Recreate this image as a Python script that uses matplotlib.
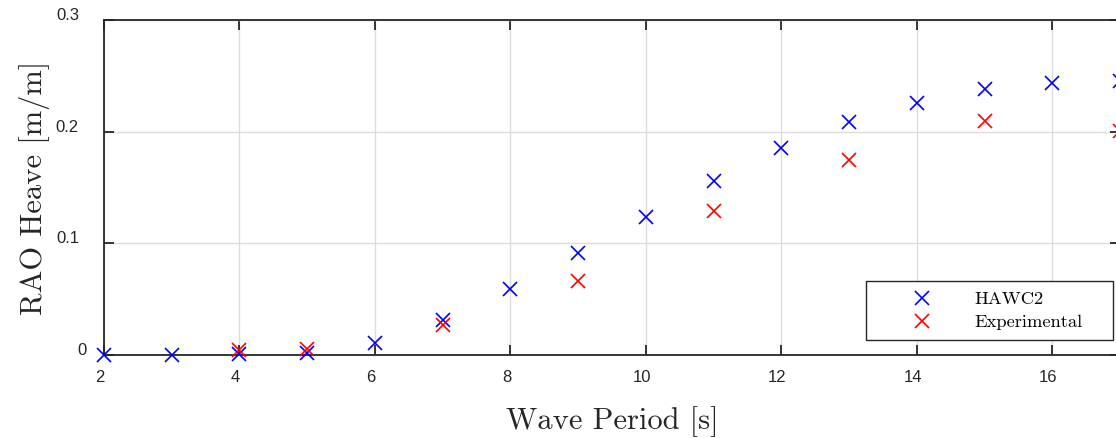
import matplotlib.pyplot as plt
import matplotlib.transforms as mtransforms
import numpy as np

# Data
periods_hawc2 = [2, 3, 4, 5, 6, 7, 8, 9, 10, 11, 12, 13, 14, 15, 16, 17]
rao_hawc2 = [0.0, 0.0, 0.001, 0.002, 0.011, 0.031, 0.059, 0.091, 0.124,
             0.156, 0.185, 0.209, 0.226, 0.238, 0.244, 0.245]

periods_exp = [4, 5, 7, 9, 11, 13, 15, 17]
rao_exp = [0.0045, 0.005, 0.027, 0.066, 0.129, 0.175, 0.210, 0.201]

x_ticks = [2, 4, 6, 8, 10, 12, 14, 16]
y_ticks = [0, 0.1, 0.2, 0.3]
y_tick_labels = ['0', '0.1', '0.2', '0.3']

W, H = 1116, 438
fig = plt.figure(figsize=(W / 100, H / 100), dpi=100)
# axes is a bit wider than the picture: the right edge is cropped like the reference
ax = fig.add_axes([104 / W, 1 - 355 / H, (1120 - 104) / W, (355 - 20) / H])

ax.plot(periods_hawc2, rao_hawc2, 'x', color='#0000ff', markersize=10,
        markeredgewidth=1.2, label='HAWC2', clip_on=False, zorder=3)
ax.plot(periods_exp, rao_exp, 'x', color='#ff0000', markersize=10,
        markeredgewidth=1.2, label='Experimental', clip_on=False, zorder=3)

ax.set_xlim(2, 17)
ax.set_ylim(0, 0.3)
ax.set_xticks(x_ticks)
ax.set_yticks(y_ticks)
ax.set_yticklabels(y_tick_labels)

# MATLAB-like look
ax.grid(True, color='#dcdcdc', linewidth=1.0)
ax.set_axisbelow(True)
for s in ax.spines.values():
    s.set_color('#262626')
    s.set_linewidth(1.3)
ax.tick_params(direction='in', length=7, width=1.3, color='#262626',
               top=True, right=True, labelsize=12, labelcolor='#262626')
ax.tick_params(axis='x', pad=11)
ax.tick_params(axis='y', pad=18)
for lab in ax.get_xticklabels() + ax.get_yticklabels():
    lab.set_family(['Liberation Sans', 'DejaVu Sans'])

# MATLAB tick labels sit a bit off the ticks
for lab in ax.get_yticklabels():
    shift_x = 8 / 100 if lab.get_text() == '0' else 0
    off = mtransforms.ScaledTranslation(shift_x, 6 / 100, fig.dpi_scale_trans)
    lab.set_transform(lab.get_transform() + off)
dx = mtransforms.ScaledTranslation(-4 / 100, 0, fig.dpi_scale_trans)
for lab in ax.get_xticklabels():
    lab.set_transform(lab.get_transform() + dx)

ax.set_xlabel('Wave Period [s]', family='cmr10', fontsize=22, color='#262626',
              labelpad=15)
ax.set_ylabel('RAO Heave [m/m]', family='cmr10', fontsize=22, color='#262626',
              labelpad=4)

leg = ax.legend(loc='upper left', mode='expand',
                bbox_to_anchor=(866 / W, 1 - 281 / H, (1113 - 866) / W, 0),
                bbox_transform=fig.transFigure,
                prop={'family': 'cmr10', 'size': 13.3},
                frameon=True, fancybox=False, edgecolor='#262626', framealpha=1,
                borderpad=0.55, labelspacing=0.38, handletextpad=0.3,
                borderaxespad=0, handlelength=5.0)
leg.get_frame().set_linewidth(1.0)

fig.savefig('out.png', dpi=100)
